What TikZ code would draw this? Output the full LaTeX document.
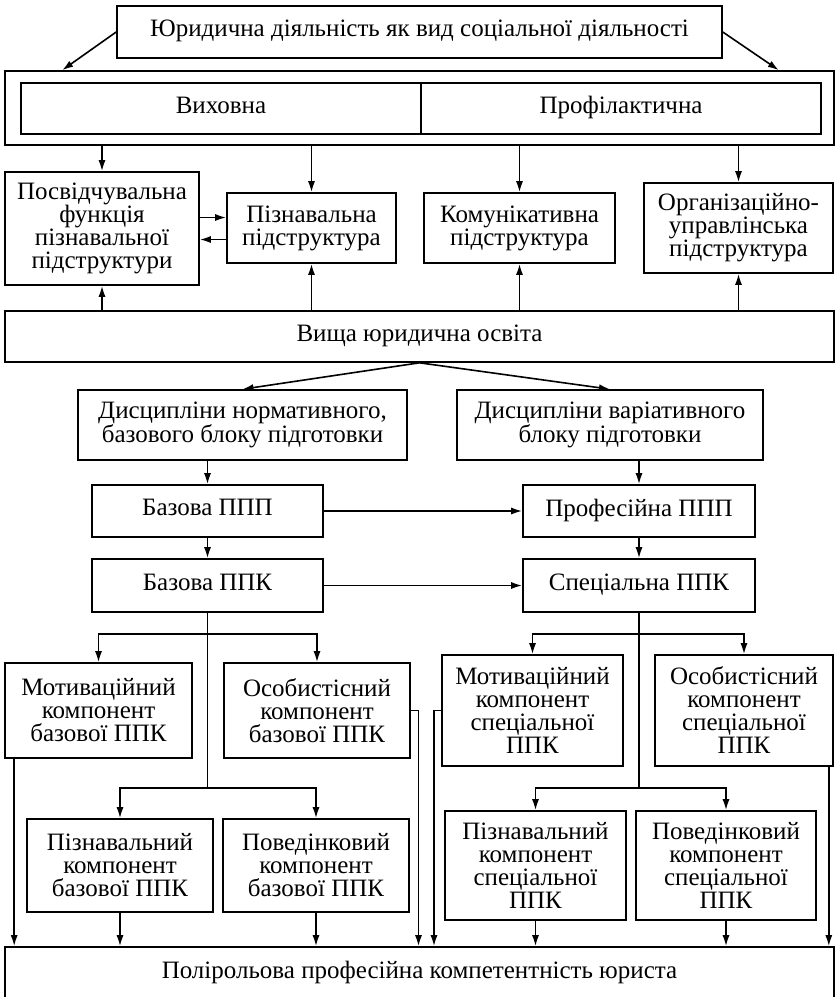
\documentclass[tikz,border=0pt]{standalone}
\usepackage{fontspec}
\setmainfont{Liberation Serif}
\usetikzlibrary{arrows.meta}
\begin{document}
\begin{tikzpicture}[x=1pt,y=-1pt,
  box/.style={draw,line width=1.6pt,inner sep=0pt,align=center,font=\fontsize{25}{23}\selectfont},
  arr/.style={line width=1.6pt,-{Latex[length=11pt,width=7pt]}},
  ln/.style={line width=1.6pt}]
\useasboundingbox (0,0) rectangle (835,997);

% top part
\node[box,minimum width=605,minimum height=52] (top) at (419.5,32) {\strut Юридична діяльність як вид соціальної діяльності};
\node[box,minimum width=829,minimum height=74] (outer) at (419.5,108) {};
\node[box,minimum width=400,minimum height=51] (vyh) at (221,108.5) {\strut Виховна};
\node[box,minimum width=400,minimum height=51] (prof) at (621,108.5) {\strut Профілактична};

\node[box,minimum width=194,minimum height=113] (posv) at (102,228.5) {Посвідчувальна\\функція\\пізнавальної\\підструктури};
\node[box,minimum width=169,minimum height=70] (pizn) at (311.5,228) {Пізнавальна\\підструктура};
\node[box,minimum width=191,minimum height=70] (komun) at (519.5,228) {Комунікативна\\підструктура};
\node[box,minimum width=189,minimum height=90] (org) at (738.5,228) {Організаційно-\\управлінська\\підструктура};

\node[box,minimum width=829,minimum height=51] (vyshcha) at (419.5,336.5) {\strut Вища юридична освіта};

\node[box,minimum width=329,minimum height=70] (dnorm) at (242.5,425) {Дисципліни нормативного,\\базового блоку підготовки};
\node[box,minimum width=306,minimum height=70] (dvar) at (610,425) {Дисципліни варіативного\\блоку підготовки};

\node[box,minimum width=231,minimum height=52] (bppp) at (207.5,511) {\strut Базова ППП};
\node[box,minimum width=231,minimum height=53] (bppk) at (207.5,585.5) {\strut Базова ППК};
\node[box,minimum width=232,minimum height=52] (pppp) at (639,511) {\strut Професійна ППП};
\node[box,minimum width=232,minimum height=53] (sppk) at (639,585.5) {\strut Спеціальна ППК};

\node[box,minimum width=187,minimum height=95] (motb) at (98.5,710.5) {Мотиваційний\\компонент\\базової ППК};
\node[box,minimum width=186,minimum height=95] (osb) at (317,710.5) {Особистісний\\компонент\\базової ППК};
\node[box,minimum width=186,minimum height=93] (piznb) at (120,865.5) {Пізнавальний\\компонент\\базової ППК};
\node[box,minimum width=186,minimum height=93] (povb) at (316,865.5) {Поведінковий\\компонент\\базової ППК};

\node[box,minimum width=181,minimum height=111] (mots) at (532.5,710.5) {Мотиваційний\\компонент\\спеціальної\\ППК};
\node[box,minimum width=178,minimum height=111] (oss) at (744,710.5) {Особистісний\\компонент\\спеціальної\\ППК};
\node[box,minimum width=181,minimum height=109] (piznS) at (535.5,865.5) {Пізнавальний\\компонент\\спеціальної\\ППК};
\node[box,minimum width=180,minimum height=109] (povS) at (726,865.5) {Поведінковий\\компонент\\спеціальної\\ППК};

\node[box,minimum width=829,minimum height=52] (bottom) at (419.5,973) {\strut Полірольова професійна компетентність юриста};

% connectors, top
\draw[arr] (top.west) -- ([xshift=58pt]outer.north west);
\draw[arr] (top.east) -- ([xshift=-56pt]outer.north east);
\draw[arr] (outer.south -| posv.north) -- (posv.north);
\draw[arr] (outer.south -| pizn.north) -- (pizn.north);
\draw[arr] (outer.south -| komun.north) -- (komun.north);
\draw[arr] (outer.south -| org.north) -- (org.north);
\draw[arr] ([yshift=11pt]posv.east) -- ([yshift=11pt]posv.east -| pizn.west);
\draw[arr] ([yshift=-11pt]posv.east -| pizn.west) -- ([yshift=-11pt]posv.east);
\draw[arr] (vyshcha.north -| posv.south) -- (posv.south);
\draw[arr] (vyshcha.north -| pizn.south) -- (pizn.south);
\draw[arr] (vyshcha.north -| komun.south) -- (komun.south);
\draw[arr] (vyshcha.north -| org.south) -- (org.south);

\draw[arr] (vyshcha.south) -- (dnorm.north);
\draw[arr] (vyshcha.south) -- (dvar.north);
\draw[arr] (dnorm.south -| bppp.north) -- (bppp.north);
\draw[arr] (bppp.south) -- (bppk.north);
\draw[arr] (dvar.south -| pppp.north) -- (pppp.north);
\draw[arr] (pppp.south) -- (sppk.north);
\draw[arr] (bppp.east) -- (pppp.west);
\draw[arr] (bppk.east) -- (sppk.west);

% left branch
\coordinate (bj1) at (207.5,634);
\coordinate (bj2) at (207.5,788);
\draw[ln] (bppk.south) -- (bj2);
\draw[arr] (bj1) -| (motb.north);
\draw[arr] (bj1) -| (osb.north);
\draw[arr] (bj2) -| (piznb.north);
\draw[arr] (bj2) -| (povb.north);
\draw[arr] (piznb.south) -- (piznb.south |- bottom.north);
\draw[arr] (povb.south) -- (povb.south |- bottom.north);
\draw[arr] ([xshift=10pt]motb.south west) -- ([xshift=10pt]motb.south west |- bottom.north);
\coordinate (ob) at (418.5,710.5);
\draw[arr] (osb.east) -- (ob) -- (ob |- bottom.north);

% right branch
\coordinate (sj1) at (639,634);
\coordinate (sj2) at (639,788);
\draw[ln] (sppk.south) -- (sj2);
\draw[arr] (sj1) -| (mots.north);
\draw[arr] (sj1) -| (oss.north);
\draw[arr] (sj2) -| (piznS.north);
\draw[arr] (sj2) -| (povS.north);
\draw[arr] (piznS.south) -- (piznS.south |- bottom.north);
\draw[arr] (povS.south) -- (povS.south |- bottom.north);
\coordinate (ms) at (434,710.5);
\draw[arr] (mots.west) -- (ms) -- (ms |- bottom.north);
\draw[arr] ([xshift=-5pt]oss.south east) -- ([xshift=-5pt]oss.south east |- bottom.north);
\end{tikzpicture}
\end{document}
